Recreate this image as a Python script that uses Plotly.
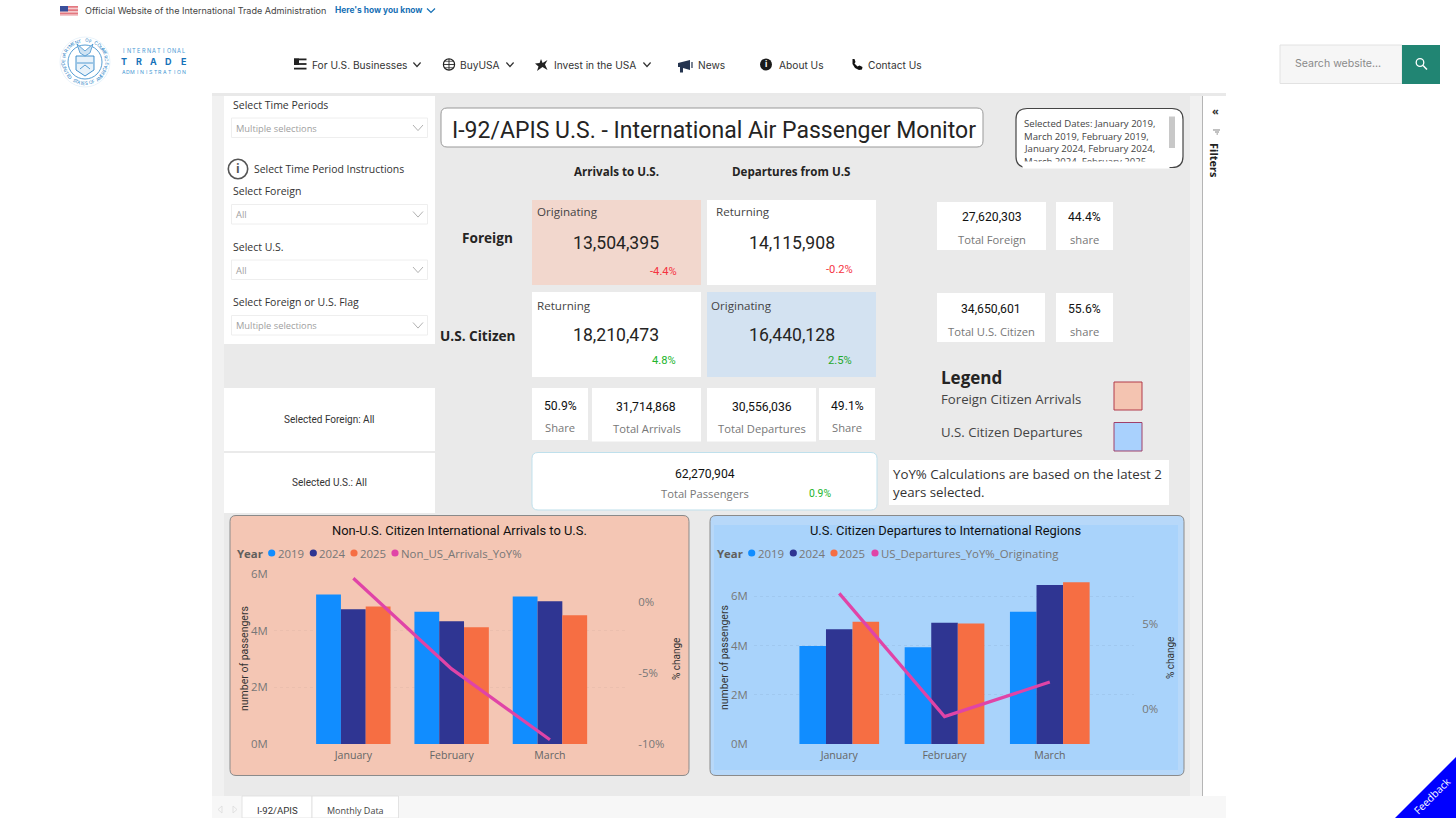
import math
import plotly.graph_objects as go

W, H = 1456, 818

months = ["January", "February", "March"]
years = ["2019", "2024", "2025"]
year_colors = ["#118dff", "#2f3592", "#f66e43"]
line_color = "#e044a7"

# Non-U.S. citizen arrivals, millions
arrivals = {
    "2019": [5.28, 4.67, 5.21],
    "2024": [4.76, 4.33, 5.04],
    "2025": [4.85, 4.12, 4.54],
}
arrivals_yoy = [1.7, -4.7, -9.7]

# U.S. citizen departures, millions
departures = {
    "2019": [3.98, 3.93, 5.38],
    "2024": [4.66, 4.93, 6.46],
    "2025": [4.97, 4.90, 6.57],
}
departures_yoy = [6.77, -0.43, 1.59]

passenger_ticks = [0, 2, 4, 6]
passenger_labels = ["0M", "2M", "4M", "6M"]
arrivals_pct_ticks = [-10, -5, 0]
arrivals_pct_labels = ["-10%", "-5%", "0%"]
departures_pct_ticks = [0, 5]
departures_pct_labels = ["0%", "5%"]

SANS = "Open Sans"
DIN = "Roboto"
WEB = "Inter"

shapes = []
notes = []


def px(x):
    return x / W


def py(y):
    return 1 - y / H


def rect(x0, y0, x1, y1, fill, line=None, lw=1):
    shapes.append(dict(type="rect", xref="paper", yref="paper", layer="below",
                       x0=px(x0), x1=px(x1), y0=py(y0), y1=py(y1), fillcolor=fill,
                       line=dict(color=line or "rgba(0,0,0,0)", width=lw if line else 0)))


def path(points, fill=None, line=None, lw=1, close=False):
    d = "M " + " L ".join(f"{px(a):.5f},{py(b):.5f}" for a, b in points)
    if close:
        d += " Z"
    shapes.append(dict(type="path", xref="paper", yref="paper", layer="below", path=d,
                       fillcolor=fill or "rgba(0,0,0,0)",
                       line=dict(color=line or "rgba(0,0,0,0)", width=lw if line else 0)))


def round_rect(x0, y0, x1, y1, r, fill, line=None, lw=1):
    d = (f"M {px(x0 + r):.5f},{py(y0):.5f} L {px(x1 - r):.5f},{py(y0):.5f} "
         f"Q {px(x1):.5f},{py(y0):.5f} {px(x1):.5f},{py(y0 + r):.5f} "
         f"L {px(x1):.5f},{py(y1 - r):.5f} Q {px(x1):.5f},{py(y1):.5f} {px(x1 - r):.5f},{py(y1):.5f} "
         f"L {px(x0 + r):.5f},{py(y1):.5f} Q {px(x0):.5f},{py(y1):.5f} {px(x0):.5f},{py(y1 - r):.5f} "
         f"L {px(x0):.5f},{py(y0 + r):.5f} Q {px(x0):.5f},{py(y0):.5f} {px(x0 + r):.5f},{py(y0):.5f} Z")
    shapes.append(dict(type="path", xref="paper", yref="paper", layer="below", path=d,
                       fillcolor=fill, line=dict(color=line or "rgba(0,0,0,0)", width=lw if line else 0)))


def circle(cx, cy, r, fill=None, line=None, lw=1):
    shapes.append(dict(type="circle", xref="paper", yref="paper", layer="below",
                       x0=px(cx - r), x1=px(cx + r), y0=py(cy - r), y1=py(cy + r),
                       fillcolor=fill or "rgba(0,0,0,0)",
                       line=dict(color=line or "rgba(0,0,0,0)", width=lw if line else 0)))


def chevron(x, y, w, h, color, lw=1.2):
    path([(x - w, y - h), (x, y + h), (x + w, y - h)], line=color, lw=lw)


def txt(x, y, s, size, color="#333333", anchor="left", font=SANS, angle=0, bold=False):
    # left anchored annotations land about 1.5px to the right
    if anchor == "left":
        x -= 1.5
    notes.append(dict(xref="paper", yref="paper", x=px(x), y=py(y), text=f"<b>{s}</b>" if bold else s,
                      showarrow=False, xanchor=anchor, yanchor="middle", textangle=angle,
                      borderpad=0, font=dict(family=font, size=size, color=color)))


def spaced(s, x0, x1, y, size, color, bold=False):
    step = (x1 - x0) / (len(s) - 1)
    for i, ch in enumerate(s):
        txt(x0 + i * step, y, ch, size, color, "center", WEB, bold=bold)


# page top strip
rect(60, 6, 78, 16, "#ffffff")
for i in range(7):
    rect(60, 6 + i * 10 / 7, 78, 6 + i * 10 / 7 + 0.72, "#d8434e")
rect(60, 6, 68, 11.5, "#3a4f9b")
txt(85.5, 10.5, "Official Website of the International Trade Administration", 9.05, "#444444", font=WEB)
txt(335, 10.5, "Here's how you know", 8.4, "#1670b5", font=WEB, bold=True)
chevron(431, 10.5, 4, 2, "#1670b5")

# seal
seal = "#2f86c8"
circle(85, 62, 25, line="#d5e7f4", lw=0.5)
circle(85, 62, 17, line=seal, lw=0.8)
top_text = "DEPARTMENT OF COMMERCE"
for i, ch in enumerate(top_text):
    a = math.radians(-95 + i * 190 / (len(top_text) - 1))
    txt(85 + 21.5 * math.sin(a), 62 - 21.5 * math.cos(a), ch, 4.6, seal, "center", WEB, angle=math.degrees(a))
bot_text = "UNITED STATES OF AMERICA"
for i, ch in enumerate(bot_text):
    a = math.radians(-78 + i * 156 / (len(bot_text) - 1))
    txt(85 + 21.5 * math.sin(a), 62 + 21.5 * math.cos(a), ch, 4.6, seal, "center", WEB, angle=-math.degrees(a))
path([(76, 56), (94, 56), (94, 70), (85, 76), (76, 70)], fill="#e8f2fa", line=seal, lw=0.9, close=True)
path([(77, 44), (85, 51), (93, 44), (90, 53), (85, 56), (80, 53)], fill="#cfe3f3", line=seal, lw=0.7, close=True)
path([(77, 63), (93, 63)], line=seal, lw=0.8)
path([(80, 69), (85, 65), (90, 69)], line=seal, lw=0.8)
spaced("INTERNATIONAL", 123.5, 183.5, 51, 5.6, "#4a9ad4")
spaced("TRADE", 124, 183, 61.5, 9, "#1671b8", bold=True)
spaced("ADMINISTRATION", 123.5, 183.5, 71.5, 5.2, "#4a9ad4")

# site nav
nav_color = "#333333"
for i in range(3):
    rect(294, 58.5 + i * 4.6, 306.5, 60.3 + i * 4.6, "#222222")
rect(294, 58.5, 299, 65, "#222222")
txt(312, 65, "For U.S. Businesses", 10.2, nav_color, font=WEB)
chevron(417, 64.5, 3.6, 2, nav_color)
circle(449, 64.5, 5.6, line="#222222", lw=1.2)
path([(443.5, 64.5), (454.5, 64.5)], line="#222222", lw=0.9)
path([(449, 59), (449, 70)], line="#222222", lw=0.9)
path([(445, 61.3), (453, 61.3)], line="#222222", lw=0.7)
path([(445, 67.7), (453, 67.7)], line="#222222", lw=0.7)
txt(460, 65, "BuyUSA", 10.2, nav_color, font=WEB)
chevron(510, 64.5, 3.6, 2, nav_color)
path([(541, 59), (542.6, 63), (547.5, 60), (545, 64.5), (547.5, 70), (542.5, 67), (537, 71), (538.5, 66.5), (535, 63.5), (539.6, 63)],
     fill="#222222", close=True)
txt(554, 65, "Invest in the USA", 10.2, nav_color, font=WEB)
chevron(647, 64.5, 3.6, 2, nav_color)
path([(678, 63), (690, 60), (690, 70), (683, 68), (683, 72.5), (680, 72.5), (680, 67), (678, 67)], fill="#24344f", close=True)
path([(692, 62), (692, 68)], line="#24344f", lw=1.2)
txt(698, 65, "News", 10.2, nav_color, font=WEB)
circle(766, 64.5, 6, fill="#1a1a1a")
txt(766, 64.5, "<b>i</b>", 8.5, "#ffffff", "center", WEB)
txt(779, 65, "About Us", 10.2, nav_color, font=WEB)
path([(852.5, 59), (854.5, 59), (855.5, 62), (854.5, 63.5), (857.5, 66.5), (859.5, 65.5), (862.5, 67), (862, 69.5),
      (859, 70), (855, 68), (852.5, 64)], fill="#111111", close=True)
txt(868, 65, "Contact Us", 10.2, nav_color, font=WEB)

# search
rect(1280, 45, 1402, 83.5, "#f6f6f6", "#e2e2e2", 1)
rect(1402, 45, 1440, 84, "#218573")
txt(1295, 63.5, "Search website...", 10.6, "#8a8a8a", font=WEB)
circle(1420, 62.5, 3.8, line="#ffffff", lw=1.3)
path([(1423, 65.5), (1427, 69.5)], line="#ffffff", lw=1.5)

# report canvas
rect(212, 93, 1226, 96, "#e9e9e9")
rect(212, 96, 1202, 796, "#f1f1f1")
rect(224, 96, 1190, 796, "#eaeaea")
rect(1202, 96, 1203, 796, "#b5b5b5")
rect(212, 796, 1226, 818, "#f7f7f7")
rect(242, 796, 312, 818, "#ffffff", "#dddddd", 0.8)
rect(312, 796, 398.5, 818, "#ffffff", "#dddddd", 0.8)
txt(277, 810, "I-92/APIS", 9.6, "#333333", "center", DIN)
txt(355.5, 810, "Monthly Data", 9, "#444444", "center", SANS)
path([(222, 806), (218, 809.5), (222, 813), (222, 806)], line="#dcdcdc", lw=0.8)
path([(233, 806), (237, 809.5), (233, 813), (233, 806)], line="#dcdcdc", lw=0.8)

# filters pane
txt(1215, 110.5, "«", 11, "#333333", "center", SANS, bold=True)
path([(1213, 130), (1220, 130)], line="#666666", lw=0.8)
path([(1215, 132), (1219, 132)], line="#666666", lw=0.8)
path([(1216.5, 134), (1218, 134)], line="#666666", lw=0.8)
txt(1215, 160, "Filters", 11, "#222222", "center", SANS, angle=90, bold=True)

# slicers
rect(224, 96, 435, 344, "#ffffff")
slicers = [("Select Time Periods", 104.5, 118, "Multiple selections"),
           ("Select Foreign", 191, 204.5, "All"),
           ("Select U.S.", 246.5, 260, "All"),
           ("Select Foreign or U.S. Flag", 302, 315.5, "Multiple selections")]
for label, ly, by, val in slicers:
    txt(233.5, ly, label, 10.5, "#333333")
    rect(231.5, by, 427.5, by + 19.5, "#ffffff", "#eeeeee", 1)
    txt(236, by + 10, val, 9.3, "#a0a0a0")
    chevron(418, by + 9.8, 5, 2.8, "#a8a8a8", 0.9)
circle(238, 169, 9.7, fill="#ffffff", line="#555555", lw=1.6)
txt(238, 169, "<b>i</b>", 12, "#555555", "center")
txt(254.5, 169, "Select Time Period Instructions", 10.45, "#333333")
rect(224, 388, 435, 451, "#ffffff")
rect(224, 453, 435, 513, "#ffffff")
txt(329.5, 419.5, "Selected Foreign: All", 10, "#333333", "center", DIN)
txt(329.5, 482, "Selected U.S.: All", 10, "#333333", "center", DIN)

# title and selected dates
round_rect(441, 108, 983, 147, 6, "#ffffff", "#999999", 1)
txt(452, 130, "I-92/APIS U.S. - International Air Passenger Monitor", 23, "#252423", font=DIN)
round_rect(1016, 108.5, 1183, 167.5, 11, "#ffffff", "#444444", 1.2)
date_lines = ["Selected Dates: January 2019,", "March 2019, February 2019,",
              "January 2024, February 2024,", "March 2024, February 2025,"]
for i, s in enumerate(date_lines):
    txt(1024, 123 + i * 13, s, 9.6, "#444444")
notes.append(dict(xref="paper", yref="paper", x=px(1022), y=py(161.3), xanchor="left", yanchor="top",
                  width=146, height=5.6, text=" ", showarrow=False, bgcolor="#ffffff", borderpad=0,
                  font=dict(size=1)))
rect(1169, 116.5, 1175, 148, "#c8c8c8")

# KPI matrix
txt(616, 172, "Arrivals to U.S.", 11.6, "#252423", "center", bold=True)
txt(791.5, 172, "Departures from U.S", 11.6, "#252423", "center", bold=True)
txt(487.5, 238, "Foreign", 13.6, "#252423", "center", bold=True)
txt(478, 335, "U.S. Citizen", 13.6, "#252423", "center", bold=True)

RED = "#f5333f"
GREEN = "#22b52d"
cards = [
    (532, 200, 701, 285, "#f2d7cd", "Originating", 537.5, 212, "13,504,395", 616, 243, "-4.4%", 663, 271.5, RED),
    (707, 200, 876, 285, "#ffffff", "Returning", 716, 211, "14,115,908", 792, 243, "-0.2%", 840, 269.5, RED),
    (532, 292, 701, 377, "#ffffff", "Returning", 537.5, 305, "18,210,473", 616, 335, "4.8%", 664, 361, GREEN),
    (707, 292, 876, 377, "#d3e2f1", "Originating", 711.5, 305, "16,440,128", 792, 335, "2.5%", 840, 361, "#1fa82b"),
]
for x0, y0, x1, y1, fill, label, lx, ly, val, vx, vy, pct, cx, cy, col in cards:
    rect(x0, y0, x1, y1, fill)
    txt(lx, ly, label, 11.6, "#444444")
    txt(vx, vy, val, 17.6, "#252423", "center", DIN)
    txt(cx, cy, pct, 11.2, col, "center", DIN)

tiles = [
    (532, 388, 588, 440, "50.9%", 560, 406, "Share", 560, 427.5),
    (592, 388, 701, 441.5, "31,714,868", 646, 407, "Total Arrivals", 647, 428),
    (707, 388, 816, 441.5, "30,556,036", 762, 407, "Total Departures", 762, 428),
    (819, 388, 875, 440, "49.1%", 847, 406, "Share", 847, 427.5),
    (937, 202, 1046, 250, "27,620,303", 992, 217, "Total Foreign", 992, 239),
    (1056, 202, 1113, 250, "44.4%", 1084, 217, "share", 1084, 239),
    (937, 293, 1045, 342, "34,650,601", 991, 309, "Total U.S. Citizen", 991, 331),
    (1056, 293, 1113, 342, "55.6%", 1084, 309, "share", 1084, 331),
]
for x0, y0, x1, y1, val, vx, vy, label, lx, ly in tiles:
    rect(x0, y0, x1, y1, "#ffffff")
    txt(vx, vy, val, 12.2, "#111111", "center", DIN)
    txt(lx, ly, label, 11.2, "#777777", "center")

round_rect(532, 452.5, 877, 510, 6, "#ffffff", "#bfe0ec", 1)
txt(705, 474, "62,270,904", 12.2, "#111111", "center", DIN)
txt(705, 494, "Total Passengers", 11.2, "#777777", "center")
txt(820, 493, "0.9%", 10.4, GREEN, "center", DIN)

# colour legend
txt(941, 378, "Legend", 17, "#252423", bold=True)
txt(941, 399.5, "Foreign Citizen Arrivals", 13.2, "#444444")
txt(941, 431.5, "U.S. Citizen Departures", 13.2, "#444444")
rect(1114, 382, 1142, 410, "#f4c4b1", "#b23a4a", 1)
rect(1114, 422.5, 1142, 451, "#a9d1fd", "#a0406a", 1)
rect(889, 460, 1169, 505, "#ffffff")
txt(893, 473.5, "YoY% Calculations are based on the latest 2", 13.3, "#333333")
txt(893, 492.5, "years selected.", 13.3, "#333333")

# chart cards
round_rect(230, 515.5, 689, 775.5, 6, "#f4c6b4", "#8a8a8a", 1)
round_rect(710, 515.5, 1184, 775.5, 6, "#b7d8f9", "#8a8a8a", 1)
rect(714, 525, 1178, 770, "#a9d3fb")
txt(459, 530, "Non-U.S. Citizen International Arrivals to U.S.", 12.9, "#111111", "center", DIN)
txt(945.5, 530, "U.S. Citizen Departures to International Regions", 12.9, "#111111", "center", DIN)

for off, measure in [(0, "Non_US_Arrivals_YoY%"), (480, "US_Departures_YoY%_Originating")]:
    txt(237.5 + off, 553, "Year", 11.4, "#605e5c", bold=True)
    for cx, tx, col, s in zip([271.7, 313.3, 354, 395], [278, 319, 360, 401.3],
                              year_colors + [line_color], years + [measure]):
        circle(cx + off, 553, 3.6, fill=col)
        txt(tx + off, 553, s, 11.4, "#777777")

txt(244, 658, "number of passengers", 10.5, "#333333", "center", DIN, angle=-90)
txt(676, 659, "% change", 10, "#333333", "center", DIN, angle=-90)
txt(724, 658, "number of passengers", 10.5, "#333333", "center", DIN, angle=-90)
txt(1170, 658, "% change", 10, "#333333", "center", DIN, angle=-90)

# feedback corner
path([(1395, 818), (1456, 757), (1456, 818)], fill="#0000ff", close=True)
txt(1432, 796, "Feedback", 10.4, "#ffffff", "center", SANS, angle=-45)

fig = go.Figure()
for yr, col in zip(years, year_colors):
    fig.add_trace(go.Bar(x=months, y=arrivals[yr], name=yr, marker_color=col, xaxis="x", yaxis="y"))
fig.add_trace(go.Scatter(x=months, y=arrivals_yoy, name="Non_US_Arrivals_YoY%", mode="lines",
                         line=dict(color=line_color, width=3.2), xaxis="x", yaxis="y2"))
for yr, col in zip(years, year_colors):
    fig.add_trace(go.Bar(x=months, y=departures[yr], name=yr, marker_color=col, xaxis="x2", yaxis="y3"))
fig.add_trace(go.Scatter(x=months, y=departures_yoy, name="US_Departures_YoY%_Originating", mode="lines",
                         line=dict(color=line_color, width=3.2), xaxis="x2", yaxis="y4"))

tick_font = dict(family=SANS, size=11.4, color="#777777")
cat_font = dict(family=SANS, size=10.6, color="#666666")
plot_top, plot_bottom = py(574), py(744)


def cat_axis(x0, x1, rng):
    return dict(domain=[px(x0), px(x1)], range=rng, type="category", showgrid=False, zeroline=False,
                showline=False, ticks="outside", ticklen=1, tickcolor="rgba(0,0,0,0)", tickfont=cat_font,
                automargin=False)


def value_axis(rng, vals, labels, grid=None, **kw):
    return dict(domain=[plot_bottom, plot_top], range=rng, tickvals=vals, ticktext=labels, tickfont=tick_font,
                showgrid=grid is not None, gridcolor=grid, griddash="dot", gridwidth=1, zeroline=False,
                showline=False, ticks="outside", tickcolor="rgba(0,0,0,0)", automargin=False, **kw)


fig.update_layout(
    template="none",
    width=W, height=H, margin=dict(l=0, r=0, t=0, b=0), autosize=False,
    paper_bgcolor="#ffffff", plot_bgcolor="rgba(0,0,0,0)",
    showlegend=False, barmode="group", bargap=0.243, bargroupgap=0,
    shapes=shapes, annotations=notes,
    xaxis=cat_axis(274, 627, [-0.807, 2.784]),
    xaxis2=cat_axis(754, 1134, [-0.81, 2.80]),
    yaxis=value_axis([0, 6], passenger_ticks, passenger_labels, "#ebbfae", anchor="x", ticklen=3),
    yaxis2=value_axis([-10, 2.0], arrivals_pct_ticks, arrivals_pct_labels, anchor="x", overlaying="y",
                      side="right", ticklen=8),
    yaxis3=value_axis([0, 6.91], passenger_ticks, passenger_labels, "#a0c8ef", anchor="x2", ticklen=3),
    yaxis4=value_axis([-2.03, 7.9], departures_pct_ticks, departures_pct_labels, anchor="x2", overlaying="y3",
                      side="right", ticklen=5),
)

fig.write_html("out.html", config={"displayModeBar": False},
               post_script="document.body.style.margin='0';document.body.style.overflow='hidden';")
